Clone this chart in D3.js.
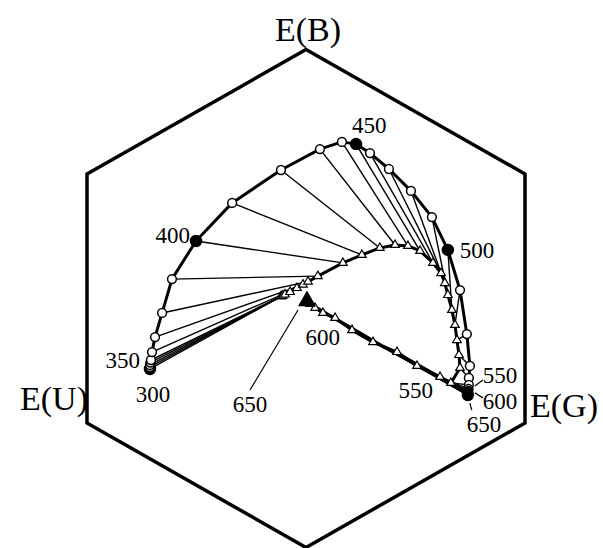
<!DOCTYPE html>
<html>
<head>
<meta charset="utf-8">
<script src="https://cdn.jsdelivr.net/npm/d3@7"></script>
<style>
  body { margin: 0; background: #fff; }
  text { font-family: "Liberation Serif", "Times New Roman", serif; fill: #000; }
</style>
</head>
<body>
<script>
const width = 603, height = 548;

// wavelengths (nm) of the plotted loci
const wavelengths = [300, 310, 320, 330, 340, 350, 360, 370, 380, 400, 410, 420, 430, 440, 450,
    460, 470, 480, 490, 500, 510, 520, 530, 540, 550, 560, 570, 580, 590, 600, 610, 620, 630, 640, 650];

// outer locus (circles), hexagon coordinates
const circleX = [-0.617, -0.617, -0.617, -0.615, -0.613, -0.609, -0.597, -0.569, -0.530, -0.435, -0.292, -0.099, 0.055, 0.142, 0.198,
    0.253, 0.328, 0.415, 0.498, 0.561, 0.609, 0.636, 0.648, 0.644, 0.644, 0.642, 0.642, 0.640, 0.640, 0.640, 0.640, 0.640, 0.640, 0.640, 0.640];
const circleY = [-0.283, -0.275, -0.267, -0.257, -0.247, -0.215, -0.155, -0.058, 0.078, 0.231, 0.384, 0.516, 0.600, 0.629, 0.620,
    0.584, 0.520, 0.432, 0.327, 0.195, 0.034, -0.143, -0.271, -0.319, -0.347, -0.363, -0.371, -0.375, -0.379, -0.383, -0.386, -0.388, -0.388, -0.388, -0.388];

// inner locus (triangles)
const triX = [-0.099, -0.095, -0.091, -0.083, -0.063, -0.036, -0.012, 0.008, 0.047, 0.146, 0.221, 0.292, 0.352, 0.403, 0.451,
    0.502, 0.534, 0.549, 0.561, 0.577, 0.589, 0.597, 0.605, 0.609, 0.573, 0.530, 0.439, 0.360, 0.265, 0.182, 0.115, 0.067, 0.036, 0.016, 0.004];
const triY = [0.008, 0.010, 0.012, 0.016, 0.026, 0.042, 0.056, 0.068, 0.090, 0.143, 0.175, 0.203, 0.215, 0.211, 0.191,
    0.143, 0.102, 0.062, 0.014, -0.046, -0.106, -0.167, -0.227, -0.279, -0.339, -0.315, -0.271, -0.215, -0.175, -0.127, -0.078, -0.058, -0.038, -0.022, -0.010];

const filledCircles = [300, 400, 450, 500, 650];
const filledTriangles = [650];

// hexagon corners and receptor axis labels
const hexAngles = [90, 30, -30, -90, -150, 150];
const axisNames = ["E(B)", "E(G)", "E(U)"];

const x = d3.scaleLinear().domain([-0.866, 0.866]).range([87, 525]);
const y = d3.scaleLinear().domain([-1, 1]).range([547.5, 49.5]);

const svg = d3.select("body").append("svg")
    .attr("width", width)
    .attr("height", height);

const circles = wavelengths.map((w, i) => ({ w, x: circleX[i], y: circleY[i] }));
const tris = wavelengths.map((w, i) => ({ w, x: triX[i], y: triY[i] }));

// hexagon
const hex = hexAngles.map(a => [Math.cos(a * Math.PI / 180), Math.sin(a * Math.PI / 180)]);
svg.append("path")
    .attr("d", d3.line().x(d => x(d[0])).y(d => y(d[1]))(hex) + "Z")
    .attr("fill", "none")
    .attr("stroke", "#000")
    .attr("stroke-width", 3.5)
    .attr("stroke-linejoin", "miter");

// connectors between loci
svg.selectAll(".link")
    .data(wavelengths)
    .enter()
    .append("line")
    .attr("x1", (d, i) => x(circleX[i]))
    .attr("y1", (d, i) => y(circleY[i]))
    .attr("x2", (d, i) => x(triX[i]))
    .attr("y2", (d, i) => y(triY[i]))
    .attr("stroke", "#000")
    .attr("stroke-width", 1.4);

const line = d3.line().x(d => x(d.x)).y(d => y(d.y));

svg.append("path")
    .attr("d", line(circles))
    .attr("fill", "none")
    .attr("stroke", "#000")
    .attr("stroke-width", 3)
    .attr("stroke-linejoin", "round");

svg.append("path")
    .attr("d", line(tris))
    .attr("fill", "none")
    .attr("stroke", "#000")
    .attr("stroke-width", 3)
    .attr("stroke-linejoin", "round");

// markers
svg.selectAll(".tri")
    .data(tris)
    .enter()
    .append("path")
    .attr("transform", d => `translate(${x(d.x)},${y(d.y)})`)
    .attr("d", d => d3.symbol().type(d3.symbolTriangle).size(filledTriangles.includes(d.w) ? 110 : 32)())
    .attr("fill", d => filledTriangles.includes(d.w) ? "#000" : "#fff")
    .attr("stroke", "#000")
    .attr("stroke-width", 1.2);

svg.selectAll(".circ")
    .data(circles)
    .enter()
    .append("circle")
    .attr("cx", d => x(d.x))
    .attr("cy", d => y(d.y))
    .attr("r", d => filledCircles.includes(d.w) ? 5.5 : 4.4)
    .attr("fill", d => filledCircles.includes(d.w) ? "#000" : "#fff")
    .attr("stroke", "#000")
    .attr("stroke-width", 1.5);

// wavelength annotations: series, wavelength, offset, anchor, optional leader
const notes = [
    { s: "c", w: 300, dx: 3, dy: 33, a: "middle" },
    { s: "c", w: 350, dx: -12, dy: 16, a: "end" },
    { s: "c", w: 400, dx: -6, dy: 2, a: "end" },
    { s: "c", w: 450, dx: -4, dy: -11, a: "start" },
    { s: "c", w: 500, dx: 12, dy: 8, a: "start" },
    { s: "c", w: 550, dx: 14, dy: -2, a: "start", lead: [6, 1, 14, -5] },
    { s: "c", w: 600, dx: 15, dy: 15, a: "start", lead: [7, -1, 15, 4] },
    { s: "c", w: 650, dx: -1, dy: 37, a: "start", lead: [2, 8, 4, 15] },
    { s: "t", w: 550, dx: -18, dy: 15, a: "end" },
    { s: "t", w: 600, dx: -12, dy: 15, a: "end" },
    { s: "t", w: 650, dx: -57, dy: 111, a: "middle", lead: [-9, 9, -57, 89] }
];

function pt(n) {
    const arr = n.s === "c" ? circles : tris;
    const d = arr.find(p => p.w === n.w);
    return [x(d.x), y(d.y)];
}

notes.forEach(n => {
    const [px, py] = pt(n);
    svg.append("text")
        .attr("x", px + n.dx)
        .attr("y", py + n.dy)
        .attr("text-anchor", n.a)
        .attr("font-size", 23)
        .text(n.w);
    if (n.lead) {
        svg.append("line")
            .attr("x1", px + n.lead[0]).attr("y1", py + n.lead[1])
            .attr("x2", px + n.lead[2]).attr("y2", py + n.lead[3])
            .attr("stroke", "#000")
            .attr("stroke-width", 1.2);
    }
});

// receptor labels at hexagon corners
svg.append("text")
    .attr("x", x(hex[0][0]) + 2)
    .attr("y", y(hex[0][1]) - 9)
    .attr("text-anchor", "middle")
    .attr("font-size", 34)
    .text(axisNames[0]);

svg.append("text")
    .attr("x", x(hex[2][0]) + 5)
    .attr("y", y(hex[2][1]) - 6)
    .attr("text-anchor", "start")
    .attr("font-size", 34)
    .text(axisNames[1]);

svg.append("text")
    .attr("x", x(hex[4][0]) + 1)
    .attr("y", y(hex[4][1]) - 13)
    .attr("text-anchor", "end")
    .attr("font-size", 34)
    .text(axisNames[2]);
</script>
</body>
</html>
